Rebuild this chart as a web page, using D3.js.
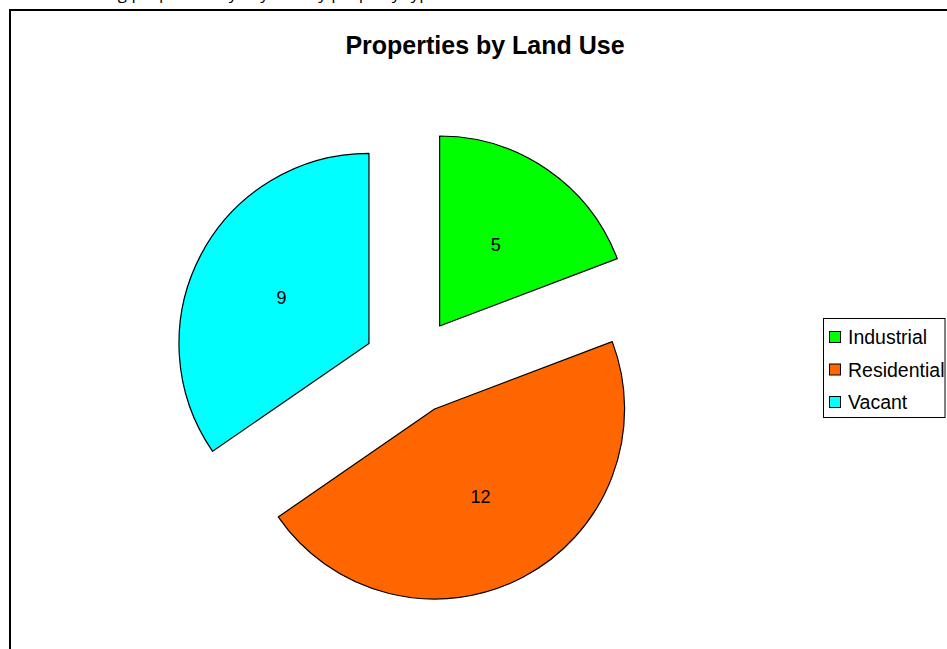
<!DOCTYPE html>
<html><head><meta charset="utf-8">
<script src="https://cdn.jsdelivr.net/npm/d3@7/dist/d3.min.js"></script>
<style>body{margin:0;background:#fff;overflow:hidden}</style>
</head><body>
<svg id="c" width="947" height="649"></svg>
<script>
const categories = ["Industrial", "Residential", "Vacant"];
const values = [5, 12, 9];
const colors = ["#00ff00", "#ff6600", "#00ffff"];
const title = "Properties by Land Use";

const svg = d3.select("#c");
const W = 947, H = 649;

// page text above the chart, cut off by the top edge as in the reference
svg.append("text").attr("x", 60).attr("y", -1)
  .attr("font-family", "Open Sans, sans-serif").attr("font-size", 17).attr("fill", "#000")
  .text("Showing properties by city and by property type");

// chart frame
svg.append("rect").attr("x", 10).attr("y", 10).attr("width", W + 20).attr("height", H + 20)
  .attr("fill", "#fff").attr("stroke", "#000").attr("stroke-width", 2);

svg.append("text").attr("x", 485).attr("y", 54).attr("text-anchor", "middle")
  .attr("font-family", "Liberation Sans, Arial, sans-serif").attr("font-weight", "bold")
  .attr("font-size", 25).text(title);

const cx = 412, cy = 366, r = 190, explode = 48.6;
const pie = d3.pie().sort(null).value(d => d)(values);
const arc = d3.arc().innerRadius(0).outerRadius(r);
const labelArc = d3.arc().innerRadius(0).outerRadius(r * 1.04);

const g = svg.append("g").attr("transform", `translate(${cx},${cy})`);
const slices = g.selectAll("g.s").data(pie).enter().append("g")
  .attr("transform", d => {
    const a = (d.startAngle + d.endAngle) / 2;
    return `translate(${explode * Math.sin(a)},${-explode * Math.cos(a)})`;
  });
slices.append("path").attr("d", arc).attr("fill", (d, i) => colors[i])
  .attr("stroke", "#000").attr("stroke-width", 1.2).attr("stroke-linejoin", "round");
slices.append("text").attr("transform", d => `translate(${labelArc.centroid(d)})`)
  .attr("text-anchor", "middle").attr("dy", "0.35em")
  .attr("font-family", "Liberation Sans, Arial, sans-serif").attr("font-size", 18)
  .text(d => d.data);

// legend
const lg = svg.append("g");
lg.append("rect").attr("x", 823.5).attr("y", 318.5).attr("width", 121.5).attr("height", 99)
  .attr("fill", "#fff").attr("stroke", "#000").attr("stroke-width", 1);
const ly = d3.scalePoint().domain(categories).range([337, 402]);
categories.forEach((c, i) => {
  lg.append("rect").attr("x", 829.5).attr("y", ly(c) - 5.5).attr("width", 11).attr("height", 11)
    .attr("fill", colors[i]).attr("stroke", "#000").attr("stroke-width", 1);
  lg.append("text").attr("x", 848).attr("y", ly(c)).attr("dy", "0.36em")
    .attr("font-family", "Liberation Sans, Arial, sans-serif").attr("font-size", 19.5).text(c);
});
</script>
</body></html>
